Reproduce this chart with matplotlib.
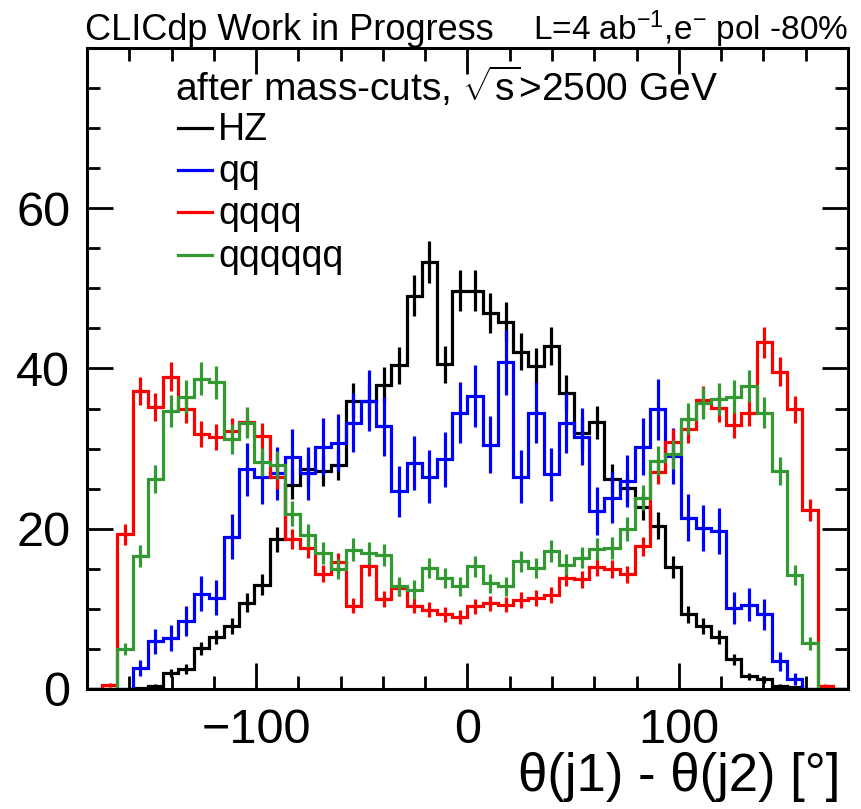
import numpy as np
import matplotlib
matplotlib.use("Agg")
import matplotlib.pyplot as plt
from matplotlib.lines import Line2D
from matplotlib.ticker import MultipleLocator

plt.rcParams['font.family'] = ['Liberation Sans', 'DejaVu Sans']
plt.rcParams['mathtext.fontset'] = 'custom'
plt.rcParams['mathtext.rm'] = 'Liberation Sans'
plt.rcParams['mathtext.it'] = 'Liberation Sans:italic'

# 50 bins of 7.2 deg from -180 to 180
edges = np.linspace(-180, 180, 51)

hz = [0, 0, 0, 0.1, 0.4, 2.0, 2.5, 5.1, 6.5, 7.9,
      10.75, 13.0, 18.7, 25.5, 27.4, 27.2, 28.0, 36.0, 36.0, 38.0,
      40.4, 49.1, 53.25, 40.5, 49.7, 49.7, 46.9, 45.8, 42.1, 40.25,
      42.8, 37.0, 31.9, 33.3, 26.2, 25.1, 22.75, 20.4, 15.25, 9.3,
      7.9, 6.5, 3.7, 1.6, 1.2, 0.4, 0.2, 0, 0, 0]
qq = [0, 0, 0, 2.6, 5.95, 6.4, 8.45, 11.9, 11.4, 19.0,
      27.4, 26.4, 26.9, 29.0, 26.9, 30.25, 30.75, 33.25, 36.0, 32.8,
      24.7, 28.2, 26.5, 28.7, 34.5, 36.6, 30.5, 40.75, 26.5, 34.5,
      26.8, 33.2, 31.5, 22.2, 23.9, 26.0, 30.25, 34.9, 29.1, 21.4,
      20.1, 19.7, 10.1, 10.5, 9.3, 3.45, 1.25, 0, 0, 0]
qqqq = [0, 0.5, 19.3, 37.2, 35.2, 39.0, 34.9, 31.8, 31.4, 32.2,
        33.3, 31.6, 26.4, 18.7, 17.6, 14.4, 15.8, 10.4, 15.3, 11.2,
        12.6, 10.4, 9.9, 9.3, 9.0, 10.3, 10.7, 10.5, 11.1, 11.4,
        11.7, 13.9, 13.7, 15.2, 15.0, 14.3, 17.8, 27.1, 30.8, 32.4,
        36.1, 35.1, 33.0, 34.5, 43.25, 39.6, 34.9, 22.3, 0.4, 0]
qqqqqq = [0, 0, 5.0, 16.6, 26.2, 34.7, 36.5, 38.75, 38.3, 31.2,
          33.25, 28.3, 28.0, 21.9, 19.2, 17.0, 15.0, 17.4, 17.0, 16.7,
          12.8, 12.4, 15.1, 13.9, 12.8, 15.3, 13.2, 12.8, 15.95, 15.1,
          17.2, 15.5, 16.4, 17.5, 17.6, 20.0, 23.9, 28.5, 29.3, 33.75,
          35.7, 36.25, 36.5, 37.8, 34.5, 27.2, 14.2, 5.7, 0, 0]

labels = ["HZ", "qq", "qqqq", "qqqqqq"]
colors = ["black", "#0000ff", "#ff0000", "#339933"]
# per-event weights (errors = sqrt(w * N))
weights = [0.13, 0.41, 0.085, 0.11]

fig = plt.figure(figsize=(8.61, 8.09), dpi=100)
W, H = 861.0, 809.0
ax = fig.add_axes([87 / W, 1 - 689 / H, (848 - 87) / W, (689 - 48) / H])

centers = 0.5 * (edges[1:] + edges[:-1])
for vals, c, w in zip([hz, qq, qqqq, qqqqqq], colors, weights):
    v = np.array(vals)
    ax.stairs(v, edges, color=c, lw=2.3, baseline=None)
    m = v > 0
    ax.errorbar(centers[m], v[m], yerr=np.sqrt(w * v[m]), fmt='none',
                ecolor=c, elinewidth=2.3, capsize=0)

ax.set_xlim(-180, 180)
ax.set_ylim(0, 80)
ax.set_xticks([-100, 0, 100])
ax.xaxis.set_minor_locator(MultipleLocator(20))
ax.set_yticks([0, 20, 40, 60])
ax.yaxis.set_minor_locator(MultipleLocator(5))
ax.tick_params(which='both', direction='in', top=True, right=True, width=2)
ax.tick_params(which='major', length=19, labelsize=35)
ax.tick_params(which='minor', length=9.5)
ax.tick_params(axis='x', pad=14)
ax.tick_params(axis='y', pad=12)
for s in ax.spines.values():
    s.set_linewidth(2.2)

fig.text(840 / W, 1 - 777 / H, "\u03b8(j1) - \u03b8(j2) [\u00b0]", ha='right',
         va='center', fontsize=38)

fig.text(85 / W, 1 - 40 / H, "CLICdp Work in Progress", ha='left',
         va='baseline', fontsize=26)
fig.text(848 / W, 1 - 40 / H, r"L=4 ab$^{-1}$,e$^{-}$ pol -80%", ha='right',
         va='baseline', fontsize=24)

fig.text(175 / W, 1 - 101 / H, r"after mass-cuts, $\sqrt{\mathrm{s}}$>2500 GeV",
         ha='left', va='baseline', fontsize=28)
ys = [128, 170, 212, 255]
for lab, c, y in zip(labels, colors, ys):
    fig.add_artist(Line2D([178 / W, 212 / W], [1 - y / H, 1 - y / H],
                          color=c, lw=2.3, transform=fig.transFigure))
    fig.text(218 / W, 1 - (y + 12) / H, lab, ha='left', va='baseline',
             fontsize=27)

fig.savefig("out.png", dpi=100)
